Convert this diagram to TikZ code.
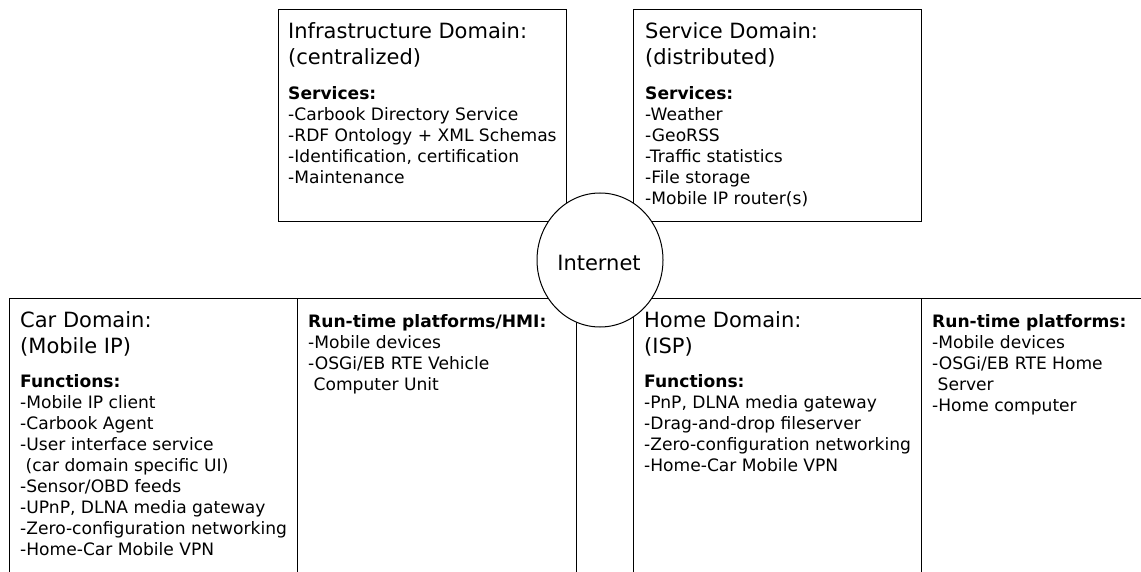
\documentclass[tikz,border=0pt]{standalone}
\usepackage{fontspec}
\setmainfont{DejaVu Sans}
% one left-aligned block of lines, baseline at its first line
\newcommand\rowsof[1]{\begin{tabular}[t]{@{}l@{}}#1\end{tabular}}
\begin{document}
\begin{tikzpicture}[x=1pt,y=-1pt,
  frame/.style={draw=black,line width=1pt},
  title/.style={anchor=base west,inner sep=0pt,font=\fontsize{21}{26}\selectfont},
  list/.style={anchor=base west,inner sep=0pt,font=\fontsize{17.1}{21.1}\selectfont},
]
\useasboundingbox (0,0) rectangle (1141,572);

% upper domains
\draw[frame] (278,10) rectangle (566,222);
\draw[frame] (633.5,10) rectangle (921,222);

% lower domains, open towards the bottom
\draw[frame] (9,580) -- (9,298) -- (576,298) -- (576,580);
\draw[frame] (297,298) -- (297,580);
\draw[frame] (633.5,580) -- (633.5,298) -- (1150,298);
\draw[frame] (921,298) -- (921,580);

% the Internet in the middle
\draw[frame,fill=white] (600,260) ellipse [x radius=63,y radius=67];
\node (net) [anchor=base,inner sep=0pt,font=\fontsize{21}{26}\selectfont] at (599,270) {Internet};

% Infrastructure domain
\node (infT) [title] at (288,38.5) {\rowsof{Infrastructure Domain:\\(centralized)}};
\node (infL) [list] at (288,99.5) {\rowsof{\textbf{Services:}\\
  -Carbook Directory Service\\
  -RDF Ontology + XML Schemas\\
  -Identification, certification\\
  -Maintenance}};

% Service domain
\node (srvT) [title] at (645,38.5) {\rowsof{Service Domain:\\(distributed)}};
\node (srvL) [list] at (645,99.5) {\rowsof{\textbf{Services:}\\
  -Weather\\
  -GeoRSS\\
  -Traffic statistics\\
  -File storage\\
  -Mobile IP router(s)}};

% Car domain
\node (carT) [title] at (20,327) {\rowsof{Car Domain:\\(Mobile IP)}};
\node (carL) [list] at (20,387) {\rowsof{\textbf{Functions:}\\
  -Mobile IP client\\
  -Carbook Agent\\
  -User interface service\\
  \ (car domain specific UI)\\
  -Sensor/OBD feeds\\
  -UPnP, DLNA media gateway\\
  -Zero-configuration networking\\
  -Home-Car Mobile VPN}};
\node (carR) [list] at (308,327) {\rowsof{\textbf{Run-time platforms/HMI:}\\
  -Mobile devices\\
  -OSGi/EB RTE Vehicle\\
  \ Computer Unit}};

% Home domain
\node (homT) [title] at (644,327) {\rowsof{Home Domain:\\(ISP)}};
\node (homL) [list] at (644,387) {\rowsof{\textbf{Functions:}\\
  -PnP, DLNA media gateway\\
  -Drag-and-drop fileserver\\
  -Zero-configuration networking\\
  -Home-Car Mobile VPN}};
\node (homR) [list] at (932,327) {\rowsof{\textbf{Run-time platforms:}\\
  -Mobile devices\\
  -OSGi/EB RTE Home\\
  \ Server\\
  -Home computer}};
\end{tikzpicture}
\end{document}
